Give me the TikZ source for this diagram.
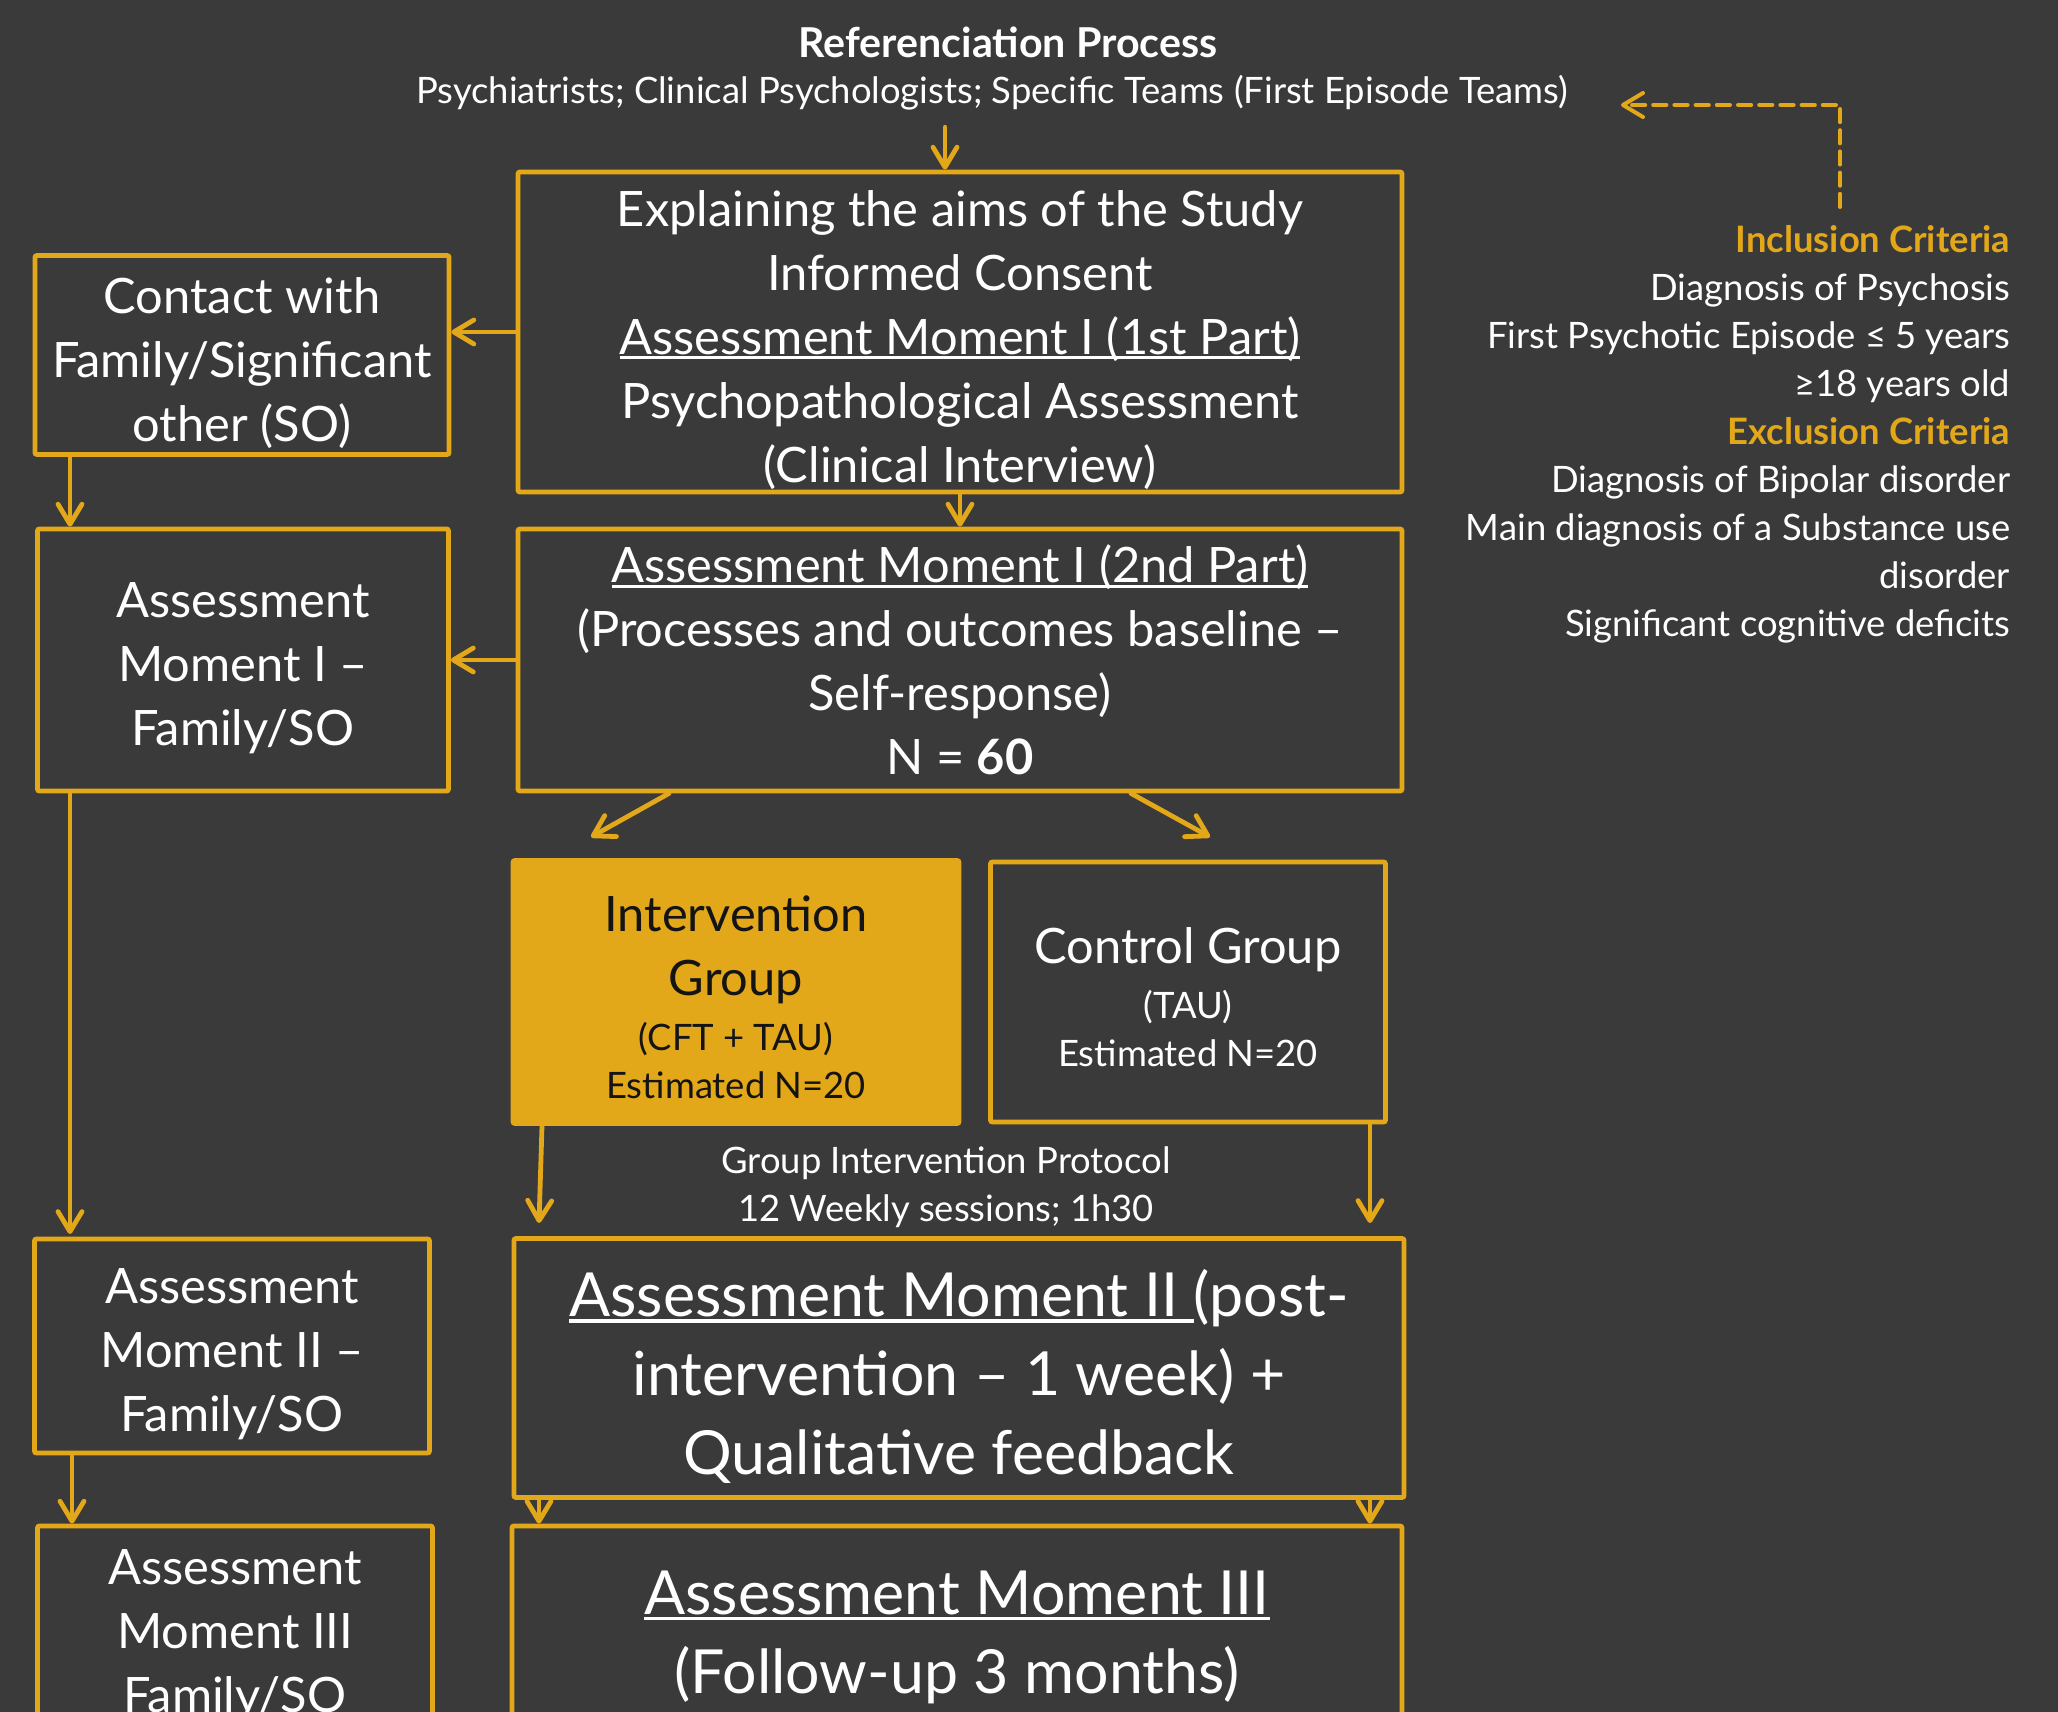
\documentclass[tikz,border=0pt]{standalone}
\usepackage{fontspec}
\setmainfont{Lato}
\usetikzlibrary{arrows.meta}
\definecolor{bgcol}{HTML}{3A3A3A}
\definecolor{gold}{HTML}{E3A71A}
\definecolor{ink}{HTML}{141414}
\newcommand\ulin[1]{\setbox0=\hbox{#1}\rlap{\rule[-0.1em]{\wd0}{0.06em}}\box0}
\newcommand\lift{\rule{0pt}{1.05em}}
\newcommand\normsize{\fontsize{12.2}{16}\selectfont}
\newcommand\bigsize{\fontsize{15.2}{19.75}\selectfont}
\newcommand\smallsize{\fontsize{9.1}{12}\selectfont}

\tikzset{
  box/.style={draw=gold, line width=1.2pt, rounded corners=0.5pt, text=white,
    align=center, inner sep=0pt, font=\normsize},
  arr/.style={draw=gold, line width=1.2pt, line cap=round,
    -{Straight Barb[length=5pt,width=6pt,line cap=round,round]}},
  note/.style={text=white, align=center, inner sep=0pt, font=\smallsize},
}

\begin{document}
\begin{tikzpicture}[x=0.25pt, y=-0.25pt]
\fill[bgcol] (0,0) rectangle (2058,1712);
\useasboundingbox (0,0) rectangle (2058,1712);

% referral
\node[note, font=\fontsize{10.3}{12}\selectfont\bfseries] (title) at (1008,42) {Referenciation Process};
\node[note] (source) at (992,93) {Psychiatrists; Clinical Psychologists; Specific Teams (First Episode Teams)};

% criteria
\node[note, align=right, anchor=north east] (criteria) at (2011,225) {%
  {\color{gold}\bfseries Inclusion Criteria}\\
  Diagnosis of Psychosis\\
  First Psychotic Episode ≤ 5 years\\
  ≥18 years old\\
  {\color{gold}\bfseries Exclusion Criteria}\\
  Diagnosis of Bipolar disorder\\
  Main diagnosis of a Substance use\\
  disorder\\
  Significant cognitive deficits};

% main column
\node[box, minimum width=221pt, minimum height=80pt] (consent) at (960,332) {%
  \lift Explaining the aims of the Study\\
  Informed Consent\\
  \ulin{Assessment Moment I (1st Part)}\\
  Psychopathological Assessment\\
  (Clinical Interview)};
\node[box, minimum width=221pt, minimum height=65.5pt] (baseline) at (960,660) {%
  \ulin{Assessment Moment I (2nd Part)}\\
  (Processes and outcomes baseline –\\
  Self-response)\\
  N = \textbf{60}};
\node[box, fill=gold, text=ink, minimum width=111.5pt, minimum height=65.75pt] (interv) at (736,992) {%
  \rule{0pt}{0.95em}Intervention\\
  Group\\[-2.2pt]
  \smallsize (CFT + TAU)\\[-3.9pt]
  \smallsize Estimated N=20};
\node[box, minimum width=98.75pt, minimum height=65pt] (control) at (1188,992) {%
  \rule{0pt}{0.95em}Control Group\\[-2.2pt]
  \smallsize (TAU)\\[-3.9pt]
  \smallsize Estimated N=20};
\node[note] (protocol) at (946,1187) {Group Intervention Protocol\\12 Weekly sessions; 1h30};
\node[box, font=\bigsize, minimum width=222.5pt, minimum height=64.75pt] (post) at (959,1368) {%
  \lift\ulin{Assessment Moment II }(post-\\
  intervention – 1 week) +\\
  Qualitative feedback};
\node[box, font=\bigsize, minimum width=222.5pt, minimum height=50.5pt] (follow) at (957,1627) {%
  \lift\ulin{Assessment Moment III}\\
  (Follow-up 3 months)};

% family column
\node[box, minimum width=103.5pt, minimum height=49.75pt] (contact) at (242,355) {%
  \lift Contact with\\Family/Significant\\other (SO)};
\node[box, minimum width=102.75pt, minimum height=65.5pt] (famone) at (243,660) {%
  \lift Assessment\\Moment I –\\Family/SO};
\node[box, minimum width=98.75pt, minimum height=53.5pt] (famtwo) at (232,1346) {%
  \lift Assessment\\Moment II –\\Family/SO};
\node[box, minimum width=98.75pt, minimum height=50.5pt] (famthree) at (235,1627) {%
  \lift Assessment\\Moment III\\Family/SO};

% helper points
\coordinate (downx) at (945,0);
\coordinate (famx) at (70,0);
\coordinate (famxb) at (72,0);
\coordinate (splitL) at (591,837);
\coordinate (splitR) at (1210,837);
\coordinate (splitLx) at (669,0);
\coordinate (splitRx) at (1131,0);
\coordinate (intervEnd) at (539,1223);
\coordinate (controlEnd) at (1370,1223);
\coordinate (famEnd) at (70,1234);
\coordinate (leftx) at (539,0);
\coordinate (rightx) at (1370,0);
\coordinate (critTop) at (1840,207);
\coordinate (critEnd) at (1621,105);

% connectors
\draw[arr] ([yshift=-4pt]source.south -| downx) -- (consent.north -| downx);
\draw[arr] (consent.west) -- (consent.west -| contact.east);
\draw[arr] (consent.south) -- (baseline.north);
\draw[arr] (baseline.west) -- (baseline.west -| famone.east);
\draw[arr] (contact.south -| famx) -- (famone.north -| famx);
\draw[arr] (famone.south -| famx) -- (famEnd);
\draw[arr] (baseline.south -| splitLx) -- (splitL);
\draw[arr] (baseline.south -| splitRx) -- (splitR);
\draw[arr] ([xshift=0.75pt]interv.south -| leftx) -- (intervEnd);
\draw[arr] (control.south -| rightx) -- (controlEnd);
\draw[arr] (famtwo.south -| famxb) -- (famthree.north -| famxb);
\draw[arr] (post.south -| leftx) -- (follow.north -| leftx);
\draw[arr] (post.south -| rightx) -- (follow.north -| rightx);
\draw[arr, line width=1pt, dash pattern=on 3.3pt off 2pt] (critTop) |- (critEnd);

\end{tikzpicture}
\end{document}
